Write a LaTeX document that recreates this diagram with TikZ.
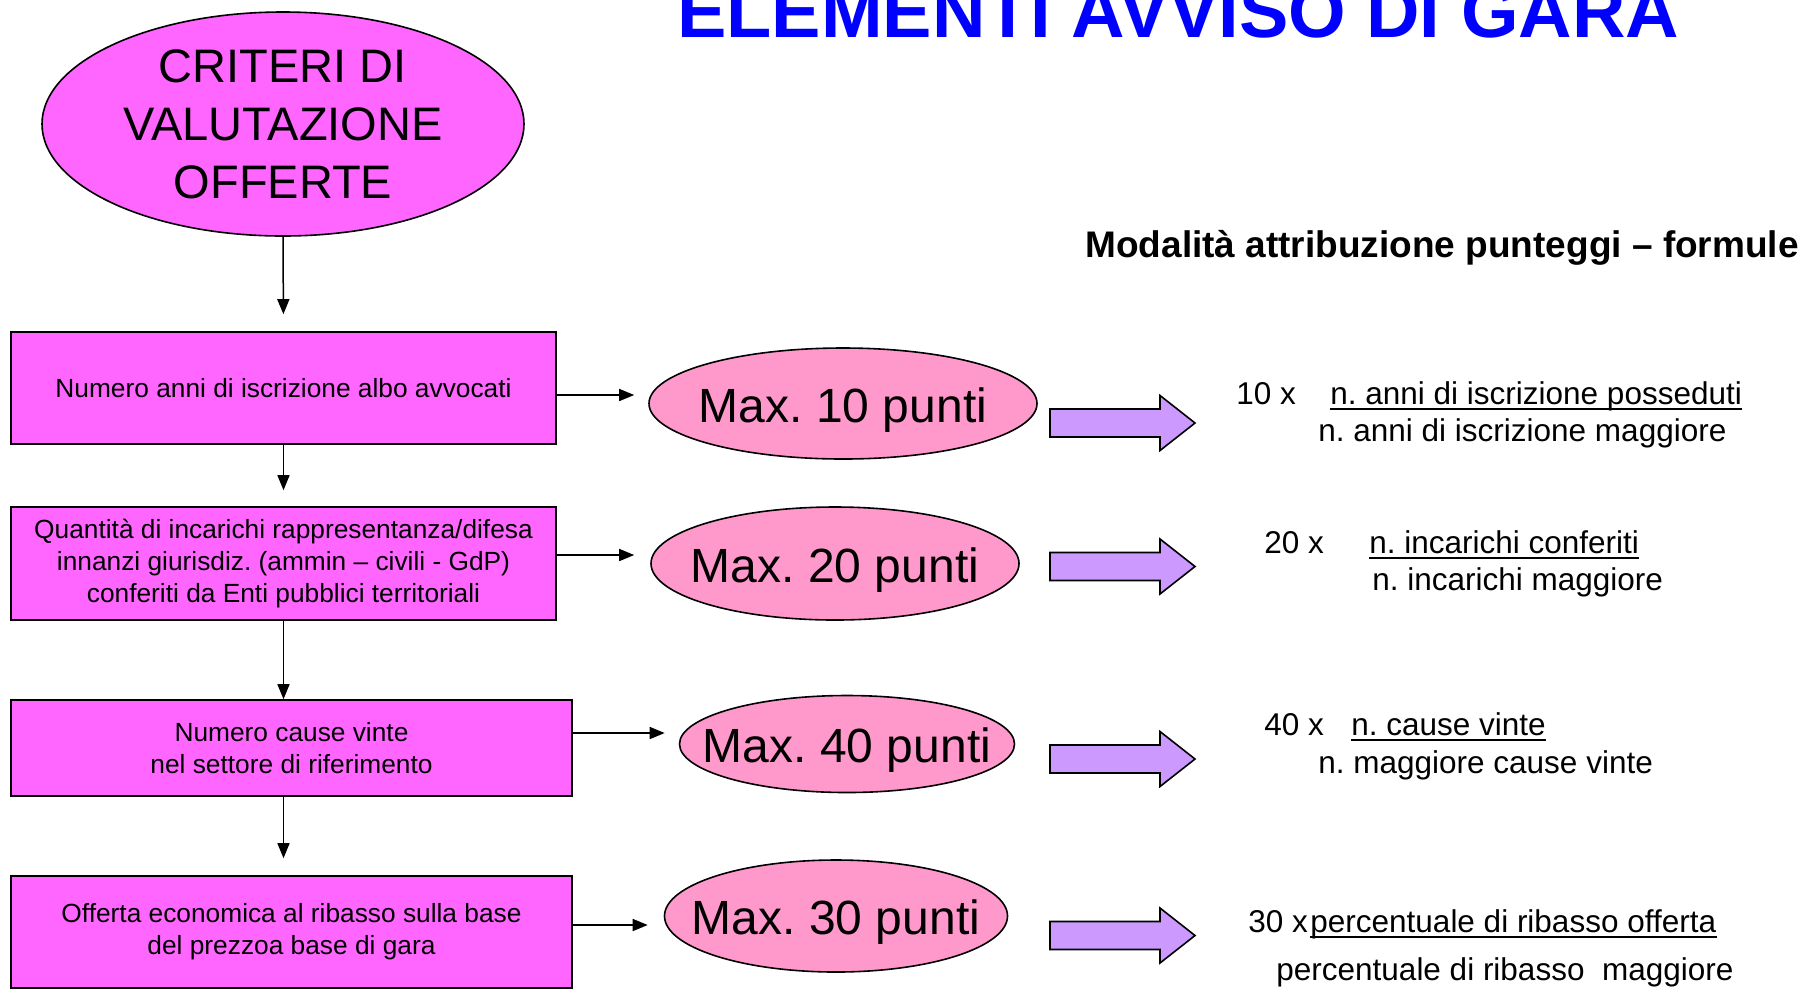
\documentclass[tikz,border=0pt]{standalone}
\usepackage{fontspec}
\setmainfont{Liberation Sans}
\usetikzlibrary{arrows.meta,shapes.geometric}
\definecolor{magbox}{HTML}{FF66FF}
\definecolor{pinkell}{HTML}{FF99CC}
\definecolor{lavarrow}{HTML}{CC99FF}
\definecolor{titleblue}{HTML}{0000FF}
\newcommand{\maxlabel}[1]{\raisebox{-9.3pt}{\makebox[0pt]{#1}}}
\begin{document}
\frenchspacing
\begin{tikzpicture}[x=0.5pt,y=-0.5pt,
  box/.style={draw=black,line width=0.8pt,fill=magbox,rectangle,inner sep=0pt,align=center,font=\fontsize{13.15}{16}\selectfont},
  critell/.style={draw=black,line width=0.8pt,fill=magbox,ellipse,inner sep=0pt,align=center,font=\fontsize{23.5}{29}\selectfont},
  maxell/.style={draw=black,line width=0.8pt,fill=pinkell,ellipse,inner sep=0pt,text height=0pt,text depth=0pt,font=\fontsize{24}{28}\selectfont},
  conn/.style={draw=black,line width=0.75pt,-{Triangle[width=6pt,length=7.5pt]}},
  fat/.style={draw=black,line width=0.8pt,fill=lavarrow,line join=miter},
  ftxt/.style={inner sep=0pt,anchor=base west,font=\fontsize{15.75}{19}\selectfont},
  uline/.style={draw=black,line width=1pt},
]
\useasboundingbox (0,0) rectangle (1807,992);
\clip (0,0) rectangle (1807,992);

% title and header
\node[inner sep=0pt,anchor=base,font=\bfseries\fontsize{37}{40}\selectfont,text=titleblue] (title) at (1178,37) {ELEMENTI AVVISO DI GARA};
\node[inner sep=0pt,anchor=base west,font=\bfseries\fontsize{18.5}{22}\selectfont] (hdr) at (1085,257) {Modalità attribuzione punteggi – formule};

% left column
\node[critell,minimum width=241pt,minimum height=112pt] (crit) at (283,124) {CRITERI DI\\VALUTAZIONE\\OFFERTE};
\node[box,minimum width=272.5pt,minimum height=56pt] (r1) at (283.5,388) {Numero anni di iscrizione albo avvocati};
\node[box,minimum width=272.5pt,minimum height=56.5pt] (r2) at (283.5,563.5) {Quantità di incarichi rappresentanza/difesa\\innanzi giurisdiz. (ammin – civili - GdP)\\conferiti da Enti pubblici territoriali};
\node[box,minimum width=280.5pt,minimum height=48pt] (r3) at (291.5,748) {Numero cause vinte\\nel settore di riferimento};
\node[box,minimum width=280.5pt,minimum height=56pt] (r4) at (291.5,932) {Offerta economica al ribasso sulla base\\del prezzoa base di gara};

% score ellipses
\node[maxell,minimum width=194pt,minimum height=55.5pt] (m1) at (843,403.5) {\maxlabel{Max. 10 punti}};
\node[maxell,minimum width=184pt,minimum height=56.5pt] (m2) at (835,563.5) {\maxlabel{Max. 20 punti}};
\node[maxell,minimum width=167.5pt,minimum height=48.5pt] (m3) at (847,744) {\maxlabel{Max. 40 punti}};
\node[maxell,minimum width=171.5pt,minimum height=56pt] (m4) at (836,916) {\maxlabel{Max. 30 punti}};

% vertical connectors
\draw[conn,shorten >=8.5pt] (crit.south) -- (r1.north);
\draw[conn,shorten >=8pt] (r1.south) -- (r2.north);
\draw[conn] (r2.south) -- (r2.south |- r3.north);
\draw[conn,shorten >=8.5pt] (r3.south -| r2.south) -- (r4.north -| r2.south);

% horizontal connectors
\coordinate (h1) at ([yshift=-3.5pt]r1.east);
\draw[conn,shorten >=7pt] (h1) -- (h1 -| m1.west);
\coordinate (h2) at ([yshift=4.25pt]r2.east);
\draw[conn,shorten >=8pt] (h2) -- (h2 -| m2.west);
\coordinate (h3) at ([yshift=7.5pt]r3.east);
\draw[conn,shorten >=7pt] (h3) -- (h3 -| m3.west);
\coordinate (h4) at ([yshift=3.5pt]r4.east);
\draw[conn,shorten >=8pt] (h4) -- (h4 -| m4.west);

% block arrows
\foreach \c in {423,566.5,759,935.5}
  \draw[fat] (1050,{\c-14}) -- (1160,{\c-14}) -- (1160,{\c-27.5}) -- (1195,\c) -- (1160,{\c+27.5}) -- (1160,{\c+14}) -- (1050,{\c+14}) -- cycle;

% formulas
\node[ftxt] (f1a) at (1236,404) {10 x};
\node[ftxt] (f1n) at (1330,404) {n. anni di iscrizione posseduti};
\node[ftxt] (f1d) at (1318,441) {n. anni di iscrizione maggiore};
\draw[uline] ([yshift=-2.5pt]f1n.base west) -- ([yshift=-2.5pt]f1n.base east);

\node[ftxt] (f2a) at (1264,553) {20 x};
\node[ftxt] (f2n) at (1369,553) {n. incarichi conferiti};
\node[ftxt] (f2d) at (1372,590) {n. incarichi maggiore};
\draw[uline] ([yshift=-2.5pt]f2n.base west) -- ([yshift=-2.5pt]f2n.base east);

\node[ftxt] (f3a) at (1264,735) {40 x};
\node[ftxt] (f3n) at (1351,735) {n. cause vinte};
\node[ftxt] (f3d) at (1318,773) {n. maggiore cause vinte};
\draw[uline] ([yshift=-2.5pt]f3n.base west) -- ([yshift=-2.5pt]f3n.base east);

\node[ftxt] (f4a) at (1248,932) {30 x};
\node[ftxt] (f4n) at (1310,932) {percentuale di ribasso offerta};
\node[ftxt] (f4d) at (1276,980) {percentuale di ribasso~ maggiore};
\draw[uline] ([yshift=-2.5pt]f4n.base west) -- ([yshift=-2.5pt]f4n.base east);
\end{tikzpicture}
\end{document}
